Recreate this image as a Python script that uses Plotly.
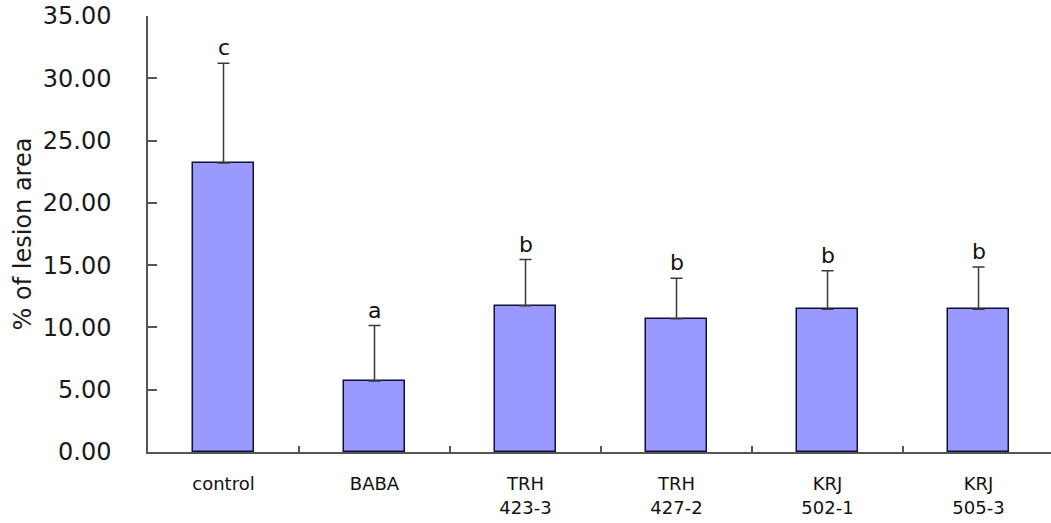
import plotly.graph_objects as go

categories = ["control", "BABA", "TRH<br>423-3", "TRH<br>427-2", "KRJ<br>502-1", "KRJ<br>505-3"]
means = [23.2, 5.7, 11.75, 10.7, 11.45, 11.45]
errors = [8.0, 4.45, 3.7, 3.25, 3.1, 3.4]
letters = ["c", "a", "b", "b", "b", "b"]
y_ticks = [0, 5, 10, 15, 20, 25, 30, 35]
y_tick_text = ["0.00", "5.00", "10.00", "15.00", "20.00", "25.00", "30.00", "35.00"]

idx = list(range(len(categories)))
FONT = "DejaVu Sans"

fig = go.Figure()
fig.add_trace(go.Bar(
    x=idx, y=means, width=0.41,
    marker=dict(color="#9999FF", line=dict(color="#10103a", width=1.5)),
    error_y=dict(type="data", array=errors, arrayminus=[0]*len(errors), symmetric=False,
                 color="#3a3a3a", thickness=1.5, width=6),
    showlegend=False, hoverinfo="skip",
))
# invisible trace on xaxis2 for the category boundary ticks
fig.add_trace(go.Scatter(x=[0], y=[0], xaxis="x2", mode="markers",
                         marker=dict(opacity=0), showlegend=False, hoverinfo="skip"))

for i, (m, e, l) in enumerate(zip(means, errors, letters)):
    fig.add_annotation(x=i, y=m + e, text=l, showarrow=False, yanchor="bottom",
                       yshift=1, font=dict(family=FONT, size=22, color="#111"))

xr = [-0.5, 5.48]
fig.update_layout(
    width=1051, height=523,
    margin=dict(l=148, r=0, t=16, b=71),
    paper_bgcolor="white", plot_bgcolor="white",
    bargap=0,
    xaxis=dict(range=xr, tickmode="array", tickvals=idx, ticktext=categories,
               ticks="", showline=True, linecolor="#555555", linewidth=1.5,
               showgrid=False, zeroline=False, ticklabelstandoff=15,
               tickfont=dict(family=FONT, size=18, color="#111")),
    xaxis2=dict(range=xr, overlaying="x", tickmode="array",
                tickvals=[i + 0.5 for i in idx[:-1]], ticks="inside", ticklen=6,
                tickcolor="#555555", tickwidth=1.5, showticklabels=False,
                showline=False, showgrid=False, zeroline=False, anchor="y", side="bottom"),
    yaxis=dict(range=[0, 35], tickmode="array", tickvals=y_ticks, ticktext=y_tick_text,
               ticks="inside", ticklen=9, tickcolor="#555555", tickwidth=1.5,
               showline=True, linecolor="#555555", linewidth=1.5,
               showgrid=False, zeroline=False, ticklabelstandoff=30,
               tickfont=dict(family=FONT, size=24, color="#1a1a1a"),
               title=dict(text="% of lesion area", standoff=4,
                          font=dict(family=FONT, size=24, color="#1a1a1a"))),
)

fig.write_html("out.html")
